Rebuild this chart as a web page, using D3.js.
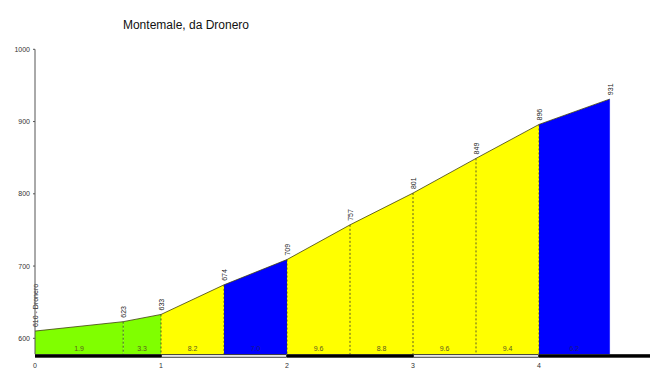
<!DOCTYPE html>
<html><head><meta charset="utf-8">
<script src="https://cdn.jsdelivr.net/npm/d3@7"></script>
<style>body{margin:0;background:#fff}svg{display:block}</style>
</head><body>
<svg id="c" width="650" height="385"></svg>
<script>
const title = "Montemale, da Dronero";
const distances = [0, 0.7, 1, 1.5, 2, 2.5, 3, 3.5, 4, 4.56];
const elevations = [610, 623, 633, 674, 709, 757, 801, 849, 896, 931];
const gradients = ["1.9", "3.3", "8.2", "7.0", "9.6", "8.8", "9.6", "9.4", "6.2"];
const segColors = ["#80ff00", "#80ff00", "#ffff00", "#0000ff", "#ffff00", "#ffff00", "#ffff00", "#ffff00", "#0000ff"];
const startLabel = "610 - Dronero";
const yTicks = [600, 700, 800, 900, 1000];
const xTicks = [0, 1, 2, 3, 4];

const svg = d3.select("#c");
const x = d3.scaleLinear().domain([0, 1]).range([35, 161]);
const y = d3.scaleLinear().domain([600, 1000]).range([338.3, 49.3]);
const yBase = y(578);

svg.append("text").attr("x", 186).attr("y", 29).attr("text-anchor", "middle")
  .attr("font-family", "Arial, Liberation Sans, sans-serif").attr("font-size", 12).attr("fill", "#111").text(title);

// segments
for (let i = 0; i < gradients.length; i++) {
  const x0 = x(distances[i]), x1 = x(distances[i+1]);
  const y0 = y(elevations[i]), y1 = y(elevations[i+1]);
  svg.append("path").attr("d", `M${x0},${yBase}L${x0},${y0}L${x1},${y1}L${x1},${yBase}Z`)
    .attr("fill", segColors[i]);
  svg.append("text").attr("x", (x0 + x1) / 2).attr("y", yBase - 3).attr("text-anchor", "middle")
    .attr("font-family", "Arial, Liberation Sans, sans-serif").attr("font-size", 7)
    .attr("fill", segColors[i] === "#0000ff" ? "#1a1a80" : "#5a5a20").text(gradients[i]);
}
// dashed dividers
for (let i = 1; i < distances.length - 1; i++) {
  svg.append("line").attr("x1", x(distances[i])).attr("x2", x(distances[i]))
    .attr("y1", y(elevations[i])).attr("y2", yBase)
    .attr("stroke", "#333").attr("stroke-width", 0.8).attr("stroke-dasharray", "2,2");
}
// end edge
const last = distances.length - 1;
svg.append("line").attr("x1", x(distances[last])).attr("x2", x(distances[last]))
  .attr("y1", y(elevations[last])).attr("y2", yBase).attr("stroke", "#3030ff").attr("stroke-width", 1);
// profile line
svg.append("path").attr("d", d3.line().x((d, i) => x(distances[i])).y(d => y(d))(elevations))
  .attr("fill", "none").attr("stroke", "#404010").attr("stroke-width", 0.8);

// elevation labels
elevations.forEach((e, i) => {
  const px = x(distances[i]) + 3, py = y(e) - 4;
  svg.append("text").attr("transform", `translate(${px},${py}) rotate(-90)`)
    .attr("font-family", "Arial, Liberation Sans, sans-serif").attr("font-size", 7).attr("fill", "#222")
    .text(i === 0 ? startLabel : e);
});

// y axis
svg.append("line").attr("x1", 35).attr("x2", 35).attr("y1", y(1000)).attr("y2", yBase).attr("stroke", "#555").attr("stroke-width", 1);
yTicks.forEach(t => {
  svg.append("line").attr("x1", 33).attr("x2", 35).attr("y1", y(t)).attr("y2", y(t)).attr("stroke", "#555");
  svg.append("text").attr("x", 30).attr("y", y(t) + 2.5).attr("text-anchor", "end")
    .attr("font-family", "Arial, Liberation Sans, sans-serif").attr("font-size", 7).attr("fill", "#333").text(t);
});

// bottom km bar
const barY = yBase, barH = 3.5;
const kmEdges = [0, 1, 2, 3, 4];
kmEdges.forEach((k, i) => {
  const xa = x(k), xb = i < kmEdges.length - 1 ? x(kmEdges[i+1]) : 650;
  if (i % 2 === 0) {
    svg.append("rect").attr("x", xa).attr("y", barY).attr("width", xb - xa).attr("height", barH).attr("fill", "#000");
  } else {
    svg.append("rect").attr("x", xa + 0.5).attr("y", barY + 0.5).attr("width", xb - xa - 1).attr("height", barH - 1)
      .attr("fill", "#fff").attr("stroke", "#000").attr("stroke-width", 0.8);
  }
});
xTicks.forEach(t => {
  svg.append("text").attr("x", x(t)).attr("y", 368).attr("text-anchor", "middle")
    .attr("font-family", "Arial, Liberation Sans, sans-serif").attr("font-size", 7).attr("fill", "#333").text(t);
});
</script>
</body></html>
